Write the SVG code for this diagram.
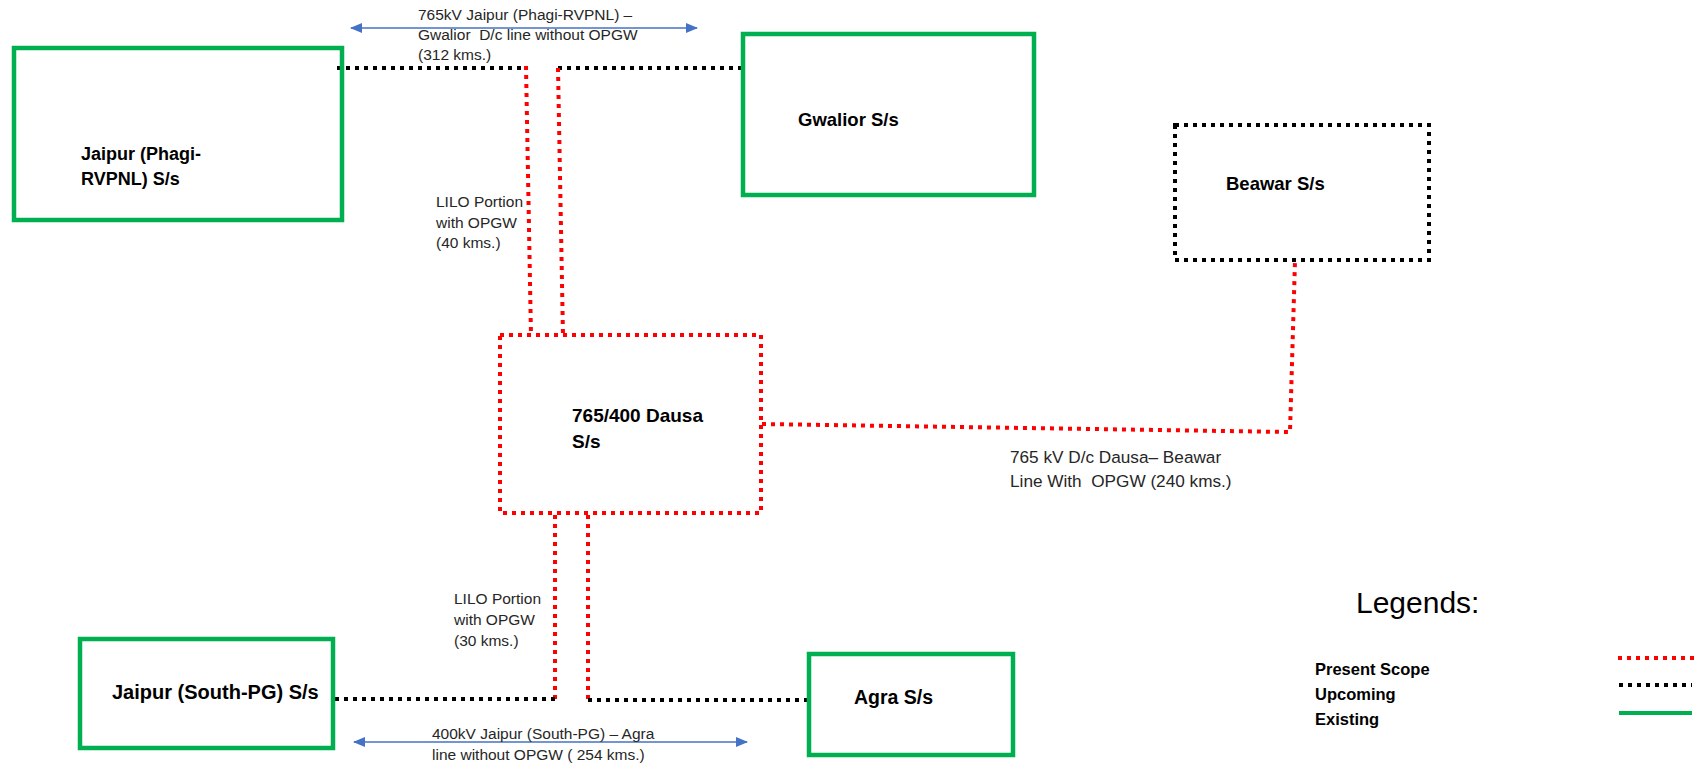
<svg xmlns="http://www.w3.org/2000/svg" width="1698" height="767" viewBox="0 0 1698 767">
<defs>
<style>
.exist{fill:none;stroke:#00B050;stroke-width:4.5}
.scope{fill:none;stroke:#FF0000;stroke-width:4;stroke-dasharray:4 5}
.upc{fill:none;stroke:#000000;stroke-width:4;stroke-dasharray:4 5}
.dim{fill:none;stroke:#4472C4;stroke-width:1.3}
.nlab{font-family:"Liberation Sans",Arial,sans-serif;font-weight:bold;fill:#000}
.lab{font-family:"Liberation Sans",Arial,sans-serif;font-size:15.5px;fill:#262626;white-space:pre}
.lab.big{font-size:17.2px}
.leg{font-family:"Liberation Sans",Arial,sans-serif;font-weight:bold;font-size:16.5px;fill:#000}
</style>
<marker id="arr" viewBox="0 0 12 10" refX="11" refY="5" markerWidth="12" markerHeight="10" markerUnits="userSpaceOnUse" orient="auto-start-reverse">
<path d="M0,0 L12,5 L0,10 z" fill="#4472C4"/>
</marker>
</defs>
<rect width="1698" height="767" fill="#fff"/>

<g id="connectors">
<path class="upc" d="M337 68 H526"/>
<path class="upc" d="M558 68 H743"/>
<path class="scope" d="M526 66 L531 336"/>
<path class="scope" d="M558 68 L563 336"/>
<path class="scope" d="M762 424 L1290 432 L1295 261"/>
<path class="scope" d="M555 515 V699"/>
<path class="scope" d="M588 515 V700"/>
<path class="upc" d="M335 699 H555"/>
<path class="upc" d="M588 700 H807"/>
<path class="dim" d="M351 28 H697" marker-start="url(#arr)" marker-end="url(#arr)"/>
<path class="dim" d="M354 742 H747" marker-start="url(#arr)" marker-end="url(#arr)"/>
</g>

<g id="jaipur-phagi">
<rect class="exist" x="14" y="48" width="328" height="172"/>
<text class="nlab" font-size="18" x="81" y="160">Jaipur (Phagi-</text>
<text class="nlab" font-size="18" x="81" y="185">RVPNL) S/s</text>
</g>

<g id="gwalior">
<rect class="exist" x="743" y="34" width="291" height="161"/>
<text class="nlab" font-size="18.5" x="798" y="126">Gwalior S/s</text>
</g>

<g id="beawar">
<rect class="upc" x="1175" y="125" width="254" height="135"/>
<text class="nlab" font-size="18.5" x="1226" y="190">Beawar S/s</text>
</g>

<g id="dausa">
<rect class="scope" x="500" y="335" width="261" height="178"/>
<text class="nlab" font-size="19" x="572" y="422">765/400 Dausa</text>
<text class="nlab" font-size="19" x="572" y="448">S/s</text>
</g>

<g id="jaipur-south">
<rect class="exist" x="80" y="639" width="253" height="109"/>
<text class="nlab" font-size="20" x="112" y="699">Jaipur (South-PG) S/s</text>
</g>

<g id="agra">
<rect class="exist" x="809" y="654" width="204" height="101"/>
<text class="nlab" font-size="19.5" x="854" y="704">Agra S/s</text>
</g>

<g id="labels">
<text class="lab" x="418" y="20">765kV Jaipur (Phagi-RVPNL) –</text>
<text class="lab" x="418" y="40">Gwalior  D/c line without OPGW</text>
<text class="lab" x="418" y="60">(312 kms.)</text>
<text class="lab" x="436" y="207">LILO Portion</text>
<text class="lab" x="436" y="228">with OPGW</text>
<text class="lab" x="436" y="248">(40 kms.)</text>
<text class="lab big" x="1010" y="463">765 kV D/c Dausa– Beawar</text>
<text class="lab big" x="1010" y="487">Line With  OPGW (240 kms.)</text>
<text class="lab" x="454" y="604">LILO Portion</text>
<text class="lab" x="454" y="625">with OPGW</text>
<text class="lab" x="454" y="646">(30 kms.)</text>
<text class="lab" x="432" y="739">400kV Jaipur (South-PG) – Agra</text>
<text class="lab" x="432" y="760">line without OPGW ( 254 kms.)</text>
</g>

<g id="legend">
<text x="1356" y="613" font-family="Liberation Sans, Arial, sans-serif" font-size="30" fill="#000">Legends:</text>
<text class="leg" x="1315" y="675">Present Scope</text>
<text class="leg" x="1315" y="700">Upcoming</text>
<text class="leg" x="1315" y="725">Existing</text>
<path class="scope" d="M1618 658 H1698"/>
<path class="upc" d="M1619 685 H1692"/>
<path d="M1619 713 H1692" stroke="#00B050" stroke-width="4"/>
</g>
</svg>
